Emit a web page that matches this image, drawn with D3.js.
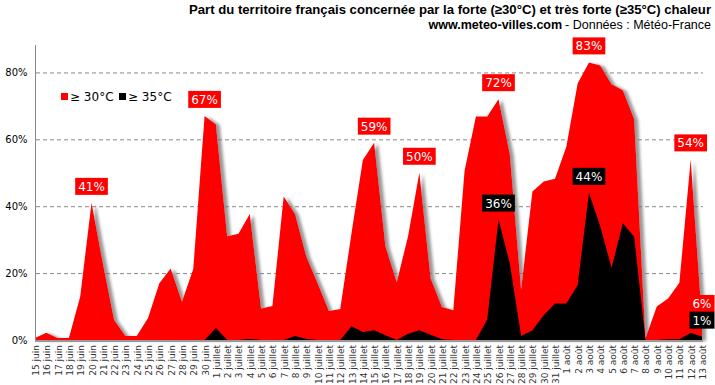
<!DOCTYPE html>
<html>
<head>
<meta charset="utf-8">
<script src="https://cdn.jsdelivr.net/npm/d3@7"></script>
<style>
  body { margin: 0; background: #fff; }
  svg { display: block; }
</style>
</head>
<body>
<svg id="chart" width="715" height="385"></svg>
<script>
const days = [
  "15 juin","16 juin","17 juin","18 juin","19 juin","20 juin","21 juin","22 juin",
  "23 juin","24 juin","25 juin","26 juin","27 juin","28 juin","29 juin","30 juin",
  "1 juillet","2 juillet","3 juillet","4 juillet","5 juillet","6 juillet","7 juillet","8 juillet",
  "9 juillet","10 juillet","11 juillet","12 juillet","13 juillet","14 juillet","15 juillet","16 juillet",
  "17 juillet","18 juillet","19 juillet","20 juillet","21 juillet","22 juillet","23 juillet","24 juillet",
  "25 juillet","26 juillet","27 juillet","28 juillet","29 juillet","30 juillet","31 juillet",
  "1 août","2 août","3 août","4 août","5 août","6 août","7 août","8 août",
  "9 août","10 août","11 août","12 août","13 août"
];

// part du territoire >= 30°C (%)
const hot30 = [
  0.6, 2.2, 0.6, 0.6, 13, 41, 23, 6, 1.2, 1.2, 6.6, 17, 21.4, 11.4, 21.2, 67,
  64.5, 31, 31.8, 37.7, 9.4, 10.2, 42.9, 37.7, 25, 17, 8.7, 9.3, 32, 53.8, 59, 28,
  17.3, 31, 50, 18.4, 9.9, 8.9, 50.6, 66.8, 66.8, 72, 55.6, 15.1, 44.4, 47.4, 48.2,
  57.8, 76.7, 83, 82.1, 76.5, 74.7, 66.1, 0.5, 10, 12.4, 17.1, 54, 6
];

// part du territoire >= 35°C (%)
const hot35 = [
  0, 0, 0, 0, 0, 0, 0, 0, 0, 0, 0, 0, 0, 0, 0, 0,
  3.6, 0, 0, 0.3, 0, 0, 0, 1.2, 0.3, 0, 0, 0, 4.1, 2.4, 2.9, 1.4,
  0, 1.9, 2.9, 1.6, 0.2, 0, 0, 0, 6.1, 36, 22.9, 1.2, 2.9, 7.4, 10.9,
  10.9, 16.4, 44, 33.9, 21.6, 34.9, 30.9, 0, 0, 0.2, 0.2, 2.2, 1
];

const labels30 = ["20 juin", "30 juin", "15 juillet", "19 juillet", "26 juillet", "3 août", "12 août", "13 août"];
const labels35 = ["26 juillet", "3 août", "13 août"];
const yTicks = [0, 20, 40, 60, 80];

const svg = d3.select("#chart");
const font = "'DejaVu Sans', Verdana, sans-serif";
const titleFont = "'Liberation Sans', Arial, sans-serif";

const x = d3.scalePoint().domain(days).range([35, 702]);
const y = d3.scaleLinear().domain([0, 88.2]).range([340, 45]);

// shadow under the red area
const defs = svg.append("defs");
defs.append("filter")
  .attr("id", "shadow")
  .attr("x", "-5%").attr("y", "-5%").attr("width", "110%").attr("height", "110%")
  .append("feDropShadow")
  .attr("dx", 4).attr("dy", 1).attr("stdDeviation", 1.6)
  .attr("flood-color", "#777").attr("flood-opacity", 0.75);

// title
svg.append("text")
  .attr("x", 711).attr("y", 14)
  .attr("text-anchor", "end")
  .attr("font-family", titleFont)
  .attr("font-size", 13).attr("font-weight", "bold")
  .attr("textLength", 522).attr("lengthAdjust", "spacingAndGlyphs")
  .text("Part du territoire français concernée par la forte (≥30°C) et très forte (≥35°C) chaleur");

// subtitle: plain part right-aligned, bold part placed before it
const subPlain = svg.append("text")
  .attr("x", 711).attr("y", 29)
  .attr("text-anchor", "end")
  .attr("font-family", titleFont).attr("font-size", 12.5)
  .text(" - Données : Météo-France");
const plainW = subPlain.node().getComputedTextLength();
svg.append("text")
  .attr("x", 711 - plainW - 3).attr("y", 29)
  .attr("text-anchor", "end")
  .attr("font-family", titleFont).attr("font-size", 12.5).attr("font-weight", "bold")
  .text("www.meteo-villes.com");

// grid
svg.append("g")
  .selectAll("line")
  .data(yTicks.filter(d => d > 0))
  .join("line")
  .attr("x1", 36).attr("x2", 703)
  .attr("y1", d => y(d) + 0.5).attr("y2", d => y(d) + 0.5)
  .attr("stroke", "#888").attr("stroke-dasharray", "4,3");

// areas
const area = d3.area()
  .x((d, i) => x(days[i]))
  .y0(y(0))
  .y1(d => y(d));

svg.append("path")
  .datum(hot30)
  .attr("d", area)
  .attr("fill", "#ff0000")
  .attr("filter", "url(#shadow)");

svg.append("path")
  .datum(hot35)
  .attr("d", area)
  .attr("fill", "#000");

// axes
const yAxis = svg.append("g")
  .attr("transform", "translate(35.5,0)")
  .call(d3.axisLeft(y).tickValues(yTicks).tickSize(0).tickPadding(8).tickFormat(d => d + "%"));
yAxis.select(".domain").attr("stroke", "#888").attr("d", `M0,${y(0)}V45`);
yAxis.selectAll("text").attr("font-family", font).attr("font-size", 10).attr("fill", "#000");

svg.append("line")
  .attr("x1", 35).attr("x2", 703)
  .attr("y1", 341).attr("y2", 341)
  .attr("stroke", "#999").attr("stroke-width", 2);

const xAxis = svg.append("g")
  .attr("transform", "translate(0,340)")
  .call(d3.axisBottom(x).tickSize(0).tickPadding(0));
xAxis.select(".domain").remove();
xAxis.selectAll("text")
  .attr("font-family", font).attr("font-size", 9).attr("fill", "#333")
  .attr("text-anchor", "end")
  .attr("dy", 0).attr("y", 0)
  .attr("transform", "translate(3.5,5) rotate(-90)");

// legend
const legend = svg.append("g").attr("font-family", font).attr("font-size", 12);
[["≥ 30°C", "#ff0000", 61], ["≥ 35°C", "#000", 119]].forEach(([t, c, lx]) => {
  legend.append("rect").attr("x", lx).attr("y", 93).attr("width", 7).attr("height", 7).attr("fill", c);
  legend.append("text").attr("x", lx + 9).attr("y", 101).text(t);
});

// value labels
function addLabel(day, value, bg) {
  const px = x(day), py = y(value);
  const g = svg.append("g");
  const t = g.append("text")
    .attr("x", px).attr("y", py - 12)
    .attr("text-anchor", "middle")
    .attr("font-family", font).attr("font-size", 12)
    .attr("fill", "#fff")
    .text(Math.round(value) + "%");
  const w = t.node().getComputedTextLength() + 6;
  g.insert("rect", "text")
    .attr("x", px - w / 2).attr("y", py - 25)
    .attr("width", w).attr("height", 17)
    .attr("fill", bg);
}
labels30.forEach(d => addLabel(d, hot30[days.indexOf(d)], "#ff0000"));
labels35.forEach(d => addLabel(d, hot35[days.indexOf(d)], "#000"));
</script>
</body>
</html>
